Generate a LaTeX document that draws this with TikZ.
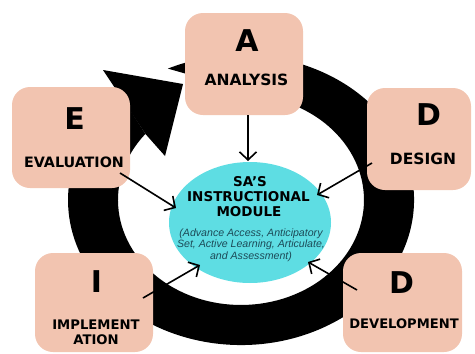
\documentclass[tikz,border=0pt]{standalone}
\usepackage{fontspec}
\setmainfont{DejaVu Sans}
\newfontfamily\descfont{Liberation Sans}
\usetikzlibrary{arrows.meta,shapes.geometric}

\definecolor{boxfill}{HTML}{F2C4B0}
\definecolor{modfill}{HTML}{5EDDE3}
\definecolor{desctext}{HTML}{1C4A57}

\begin{document}
\begin{tikzpicture}[x=1pt,y=-1pt,
  box/.style={fill=boxfill, rounded corners=18pt, inner sep=0pt, draw=none},
  letter/.style={font=\bfseries\fontsize{30}{30}\selectfont, inner sep=0pt},
  steplabel/.style={font=\bfseries\fontsize{#1}{17}\selectfont, inner sep=0pt},
  steplabel/.default=14.5,
  headline/.style={font=\bfseries\fontsize{13.5}{15}\selectfont, inner sep=0pt},
  descline/.style={font=\descfont\itshape\fontsize{10.6}{11.5}\selectfont, text=desctext, inner sep=0pt, anchor=base},
  conn/.style={line width=1.6pt, -{Straight Barb[length=8pt,width=17pt,line width=1.6pt]}}
]
\useasboundingbox (0,0) rectangle (475,354);

% the cycle ring, starting with a slanted tail and ending at the arrowhead
\fill[black] (167.9,68.6) arc[start angle=-115,end angle=226,x radius=173,y radius=145]
  -- (145.4,133.9) arc[start angle=219,end angle=-69,x radius=123,y radius=105] -- cycle;
\fill[black] (103,70) -- (183,84) -- (165,156) -- (145.4,133.9) -- cycle;

% central module
\node[ellipse, fill=modfill, minimum width=162pt, minimum height=121pt, inner sep=0pt] (mod) at (250,222.5) {};

% phase boxes
\node[box, minimum width=118pt, minimum height=102pt] (boxA) at (244,64) {};
\node[box, minimum width=118pt, minimum height=101pt] (boxE) at (71,137.5) {};
\node[box, minimum width=104pt, minimum height=102pt] (boxD) at (419,139) {};
\node[box, minimum width=118pt, minimum height=99pt] (boxI) at (94,302.5) {};
\node[box, minimum width=119pt, minimum height=99pt] (boxV) at (402.5,302.5) {};

% phase letters and names
\node[letter] (letA) at (247,41) {A};
\node[steplabel=15.5] (nameA) at (246.5,80) {ANALYSIS};
\node[letter] (letE) at (74.5,119) {E};
\node[steplabel=14.3] (nameE) at (74,162.5) {EVALUATION};
\node[letter] (letD) at (428.5,115) {D};
\node[steplabel=15.5] (nameD) at (423,159) {DESIGN};
\node[letter] (letI) at (96.5,281.5) {I};
\node[steplabel=13.2] (nameI) at (96,325) {IMPLEMENT};
\node[steplabel=13.2] (nameI2) at (96,340) {ATION};
\node[letter] (letV) at (401.5,282.5) {D};
\node[steplabel=13.1] (nameV) at (404,324) {DEVELOPMENT};

% module text
\node[headline] (h1) at (250,182) {SA'S};
\node[headline] (h2) at (248.5,197) {INSTRUCTIONAL};
\node[headline] (h3) at (249,212) {MODULE};
\node[descline] (d1) at (251,236) {(Advance Access, Anticipatory};
\node[descline] (d2) at (251,247.5) {Set, Active Learning, Articulate,};
\node[descline] (d3) at (251,259) {and Assessment)};

% connectors into the module
\coordinate (aFrom) at (248,115);  \coordinate (aTo) at (248,161);
\coordinate (eFrom) at (120,173);  \coordinate (eTo) at (176,208);
\coordinate (dFrom) at (372,163);  \coordinate (dTo) at (317,195);
\coordinate (iFrom) at (143,298);  \coordinate (iTo) at (200,265);
\coordinate (vFrom) at (357,290);  \coordinate (vTo) at (308,262);
\draw[conn] (aFrom) -- (aTo);
\draw[conn] (eFrom) -- (eTo);
\draw[conn] (dFrom) -- (dTo);
\draw[conn] (iFrom) -- (iTo);
\draw[conn] (vFrom) -- (vTo);
\end{tikzpicture}
\end{document}
